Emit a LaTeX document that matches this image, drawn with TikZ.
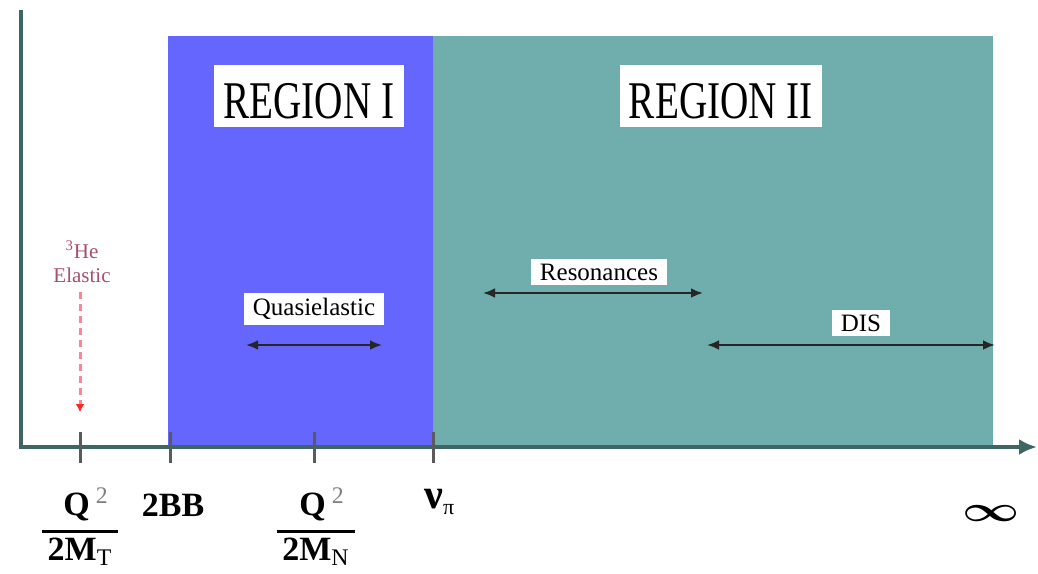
\documentclass[tikz,border=0pt]{standalone}
\usepackage{fontspec}
\setmainfont{Liberation Serif}
\usetikzlibrary{arrows.meta,positioning}
\definecolor{axis}{HTML}{3E6663}
\definecolor{regionone}{HTML}{6466FE}
\definecolor{regiontwo}{HTML}{70AEAE}
\definecolor{tickgray}{HTML}{5A5A5A}
\definecolor{elastic}{HTML}{A5506A}
\definecolor{dashred}{HTML}{FF8296}

\begin{document}
\begin{tikzpicture}[x=0.5pt,y=-0.5pt,>=Latex,
region/.style={fill=white,inner xsep=4.5pt,inner ysep=4.5pt,text height=22pt,text depth=0pt,font=\fontsize{26.5}{28}\selectfont},
band/.style={fill=white,inner xsep=4.5pt,inner ysep=2.5pt,font=\fontsize{12.5}{14}\selectfont},
spanarrow/.style={{Latex[length=6pt,width=5pt]}-{Latex[length=6pt,width=5pt]},line width=1.4pt,black!85},
axislabel/.style={inner sep=0pt,font=\bfseries\fontsize{17}{20}\selectfont},
tickmark/.style={tickgray,line width=1.5pt}]
\useasboundingbox (0,0) rectangle (1038,573);
% the two regions
\fill[regionone] (168,36) rectangle (433,445);
\fill[regiontwo] (433,36) rectangle (993,445);
\node[region] (reg1) at (309,96) {\scalebox{0.74}[1]{REGION I}};
\node[region] (reg2) at (721,96) {\scalebox{0.74}[1]{REGION II}};
% axes and ticks
\coordinate (top) at (21,10);
\coordinate (end) at (1037,447);
\draw[axis,line width=2.4pt,-{Latex[length=9pt,width=8pt]}] (top) |- (end);
\foreach \x in {80,170,314,433}
  \draw[tickmark] (\x,432) -- (\x,463);
% processes
\node[band] (qel) at (314,309) {Quasielastic};
\node[band] (res) at (599,272) {Resonances};
\node[band] (dis) at (861,323) {DIS};
\coordinate (qel-l) at (246,345);
\coordinate (qel-r) at (382,345);
\coordinate (res-l) at (483,293);
\coordinate (res-r) at (703,293);
\coordinate (dis-l) at (707,345);
\coordinate (dis-r) at (995,345);
\draw[spanarrow] (qel-l) -- (qel-r);
\draw[spanarrow] (res-l) -- (res-r);
\draw[spanarrow] (dis-l) -- (dis-r);
% elastic peak
\node[elastic,inner sep=0pt,font=\fontsize{10.5}{12}\selectfont] (he) at (82,250) {\textsuperscript{3}He};
\node[elastic,inner sep=0pt,font=\fontsize{10.5}{12}\selectfont,below=4pt of he] (el) {Elastic};
\coordinate (el-a) at (80,292);
\coordinate (el-b) at (80,412);
\draw[dashred,line width=1.5pt,dash pattern=on 3.5pt off 2.5pt,-{Latex[length=4pt,width=4.5pt,color=red!85!white]}] (el-a) -- (el-b);
% axis labels
\setlength{\arrayrulewidth}{1.5pt}
\node[axislabel] (mt) at (80,530) {\begin{tabular}{@{\,}c@{\,}}\hspace{6pt}Q\hspace{3pt}\textsuperscript{\mdseries\color{black!50}2}\\[1pt]\hline 2M\textsubscript{\mdseries T}\end{tabular}};
\node[axislabel] (bb) at (173,505) {2BB};
\node[axislabel] (mn) at (316,530) {\begin{tabular}{@{\,}c@{\,}}\hspace{6pt}Q\hspace{3pt}\textsuperscript{\mdseries\color{black!50}2}\\[1pt]\hline 2M\textsubscript{\mdseries N}\end{tabular}};
\node[axislabel,anchor=base west,font=\bfseries\fontsize{21}{22}\selectfont] (nu) at (424,508) {ν\textsubscript{\mdseries\fontsize{11}{12}\selectfont π}};
\node[axislabel] (inf) at (991,514) {\scalebox{1}[0.72]{\fontsize{26}{28}\selectfont\boldmath$\infty$}};
\end{tikzpicture}
\end{document}
